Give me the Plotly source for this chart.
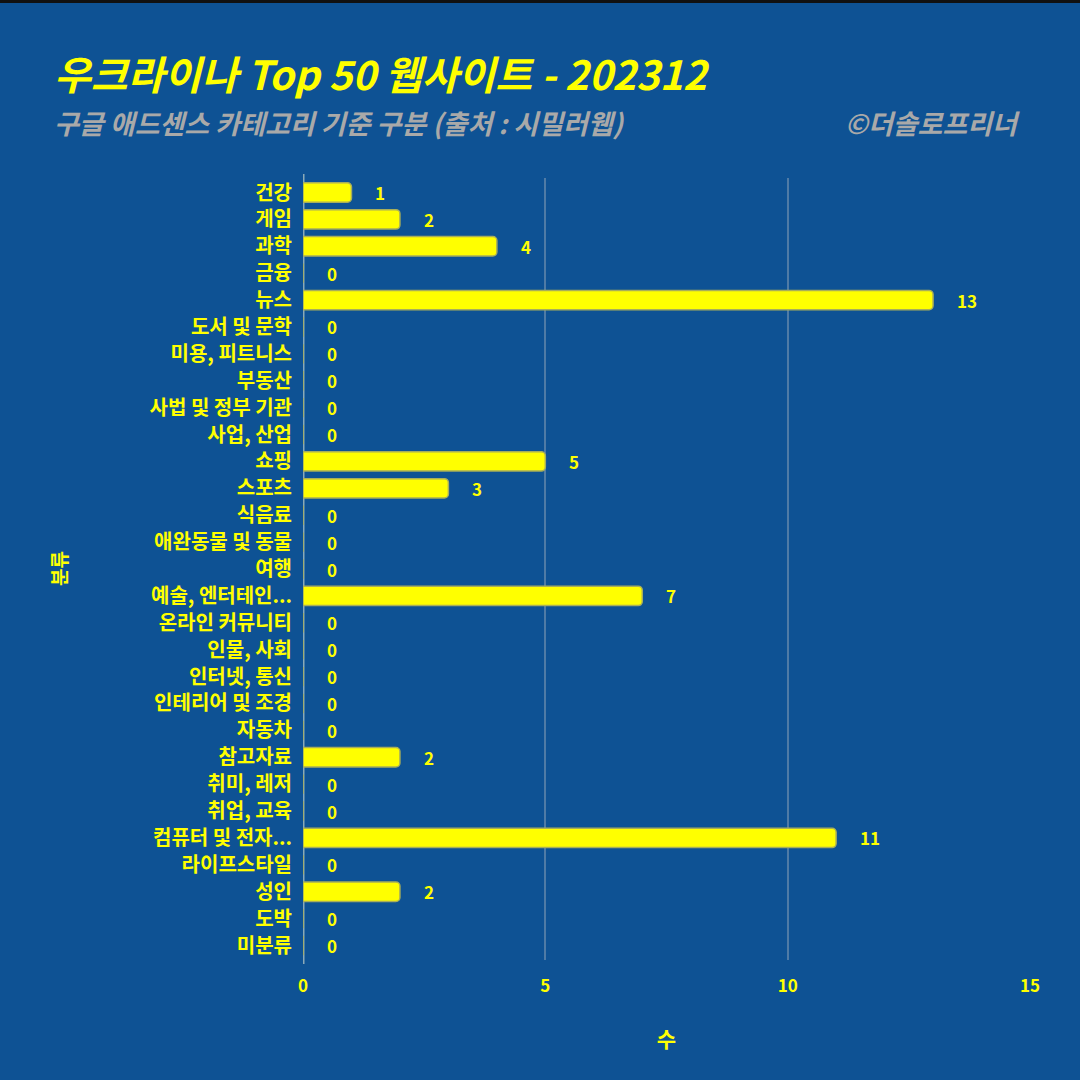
import plotly.graph_objects as go

categories = ["건강", "게임", "과학", "금융", "뉴스", "도서 및 문학", "미용, 피트니스", "부동산",
              "사법 및 정부 기관", "사업, 산업", "쇼핑", "스포츠", "식음료", "애완동물 및 동물", "여행",
              "예술, 엔터테인...", "온라인 커뮤니티", "인물, 사회", "인터넷, 통신", "인테리어 및 조경",
              "자동차", "참고자료", "취미, 레저", "취업, 교육", "컴퓨터 및 전자...", "라이프스타일",
              "성인", "도박", "미분류"]
counts = [1, 2, 4, 0, 13, 0, 0, 0, 0, 0, 5, 3, 0, 0, 0, 7, 0, 0, 0, 0, 0, 2, 0, 0, 11, 0, 2, 0, 0]
x_ticks = [0, 5, 10, 15]

title_text = "우크라이나 Top 50 웹사이트 - 202312"
subtitle_text = "구글 애드센스 카테고리 기준 구분 (출처 : 시밀러웹)"
credit_text = "©더솔로프리너"
x_title = "수"
y_title = "분류"

BG = "#0E5294"
YEL = "#FFFF00"
FONT = "Noto Sans CJK KR"
PW, PH = 727, 782

fig = go.Figure()
fig.add_trace(go.Bar(
    x=counts, y=categories, orientation="h",
    marker=dict(color=YEL, line=dict(color="#A8AE5A", width=1.5), cornerradius=4),
    width=0.72, hoverinfo="x+y", showlegend=False,
))

for c, v in zip(categories, counts):
    fig.add_annotation(x=v, y=c, text=f"<b>{v}</b>", showarrow=False,
                       xanchor="left", xshift=22,
                       font=dict(family=FONT, size=17, color=YEL))

fig.update_layout(
    width=1080, height=1080,
    paper_bgcolor=BG, plot_bgcolor=BG,
    margin=dict(l=303, r=50, t=178, b=120),
    font=dict(family=FONT, color=YEL),
)
fig.update_xaxes(range=[0, 15], tickvals=x_ticks, showgrid=True,
                 gridcolor="rgba(200,200,200,0.35)", gridwidth=1.5,
                 zeroline=False, showline=False,
                 tickfont=dict(family=FONT, size=17, color=YEL, weight="bold"),
                 ticks="", ticklabelstandoff=14,
                 title=dict(text=f"<b>{x_title}</b>", font=dict(family=FONT, size=21, color=YEL), standoff=36))
fig.update_yaxes(categoryorder="array", categoryarray=categories, autorange="reversed",
                 showgrid=False, zeroline=False, showline=False, ticks="",
                 tickfont=dict(family=FONT, size=20, color=YEL, weight="bold"),
                 ticklabelstandoff=10)

fig.add_annotation(text=f"<b>{y_title}</b>", xref="paper", yref="paper",
                   x=-(303 - 58) / PW, y=0.5, textangle=-90, showarrow=False,
                   xanchor="center", yanchor="middle",
                   font=dict(family=FONT, size=19, color=YEL))

# light axis line at x=0
fig.add_shape(type="line", xref="x", yref="paper", x0=0, x1=0, y0=-0.005, y1=1.005,
              line=dict(color="rgba(160,185,190,0.85)", width=3), layer="below")

# top black border
fig.add_shape(type="rect", xref="paper", yref="paper", x0=-0.5, x1=1.2,
              y0=1 + (178 - 3) / PH, y1=1 + 178 / PH + 0.01,
              fillcolor="#111111", line=dict(width=0))

fig.add_annotation(text=f"<b><i>{title_text}</i></b>", xref="paper", yref="paper",
                   x=-(303 - 52) / PW, y=1 + (178 - 73) / PH, xanchor="left", yanchor="middle",
                   showarrow=False, font=dict(family=FONT, size=40, color=YEL))
fig.add_annotation(text=f"<b><i>{subtitle_text}</i></b>", xref="paper", yref="paper",
                   x=-(303 - 52) / PW, y=1 + (178 - 122) / PH, xanchor="left", yanchor="middle",
                   showarrow=False, font=dict(family=FONT, size=27, color="#A9A9A9"))
fig.add_annotation(text=f"<b><i>{credit_text}</i></b>", xref="paper", yref="paper",
                   x=(1022 - 303) / PW, y=1 + (178 - 122) / PH, xanchor="right", yanchor="middle",
                   showarrow=False, font=dict(family=FONT, size=27, color="#A9A9A9"))

fig.write_html("out.html", config={"displayModeBar": False},
               post_script="document.body.style.margin='0';document.body.style.overflow='hidden';")
